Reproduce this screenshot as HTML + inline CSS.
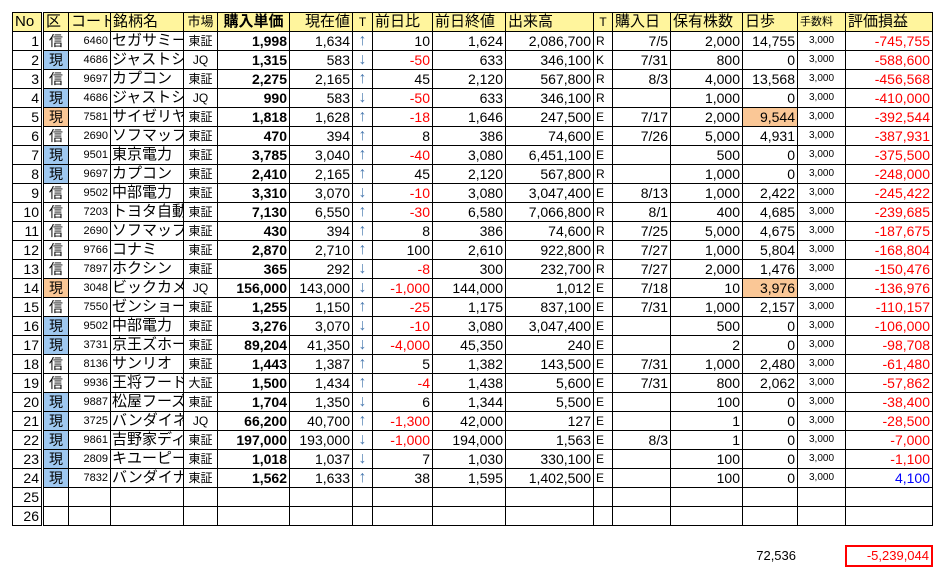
<!DOCTYPE html>
<html><head><meta charset="utf-8"><style>
body{margin:0;width:948px;height:578px;background:#fff;position:relative;overflow:hidden;font-family:"Liberation Sans","Noto Sans CJK JP",sans-serif;}
table{position:absolute;left:12px;top:12px;border-collapse:collapse;table-layout:fixed;width:921px;font-size:14px;color:#000;}
td{border:1px solid #000;padding:0 2px;height:18px;line-height:18px;white-space:nowrap;overflow:hidden;text-align:right;}
tr{height:19px;}
tr.h td{background:#fff59d;text-align:left;font-size:15px;}
td.k{text-align:center;border-left:3px double #000;}
td.c{font-size:11px;}
td.n{text-align:left;font-size:15px;padding-left:1px;}
td.m{text-align:center;font-size:12px;}
td.b{font-weight:bold;}
td.a{text-align:center;color:#4a7ab0;font-size:16px;}
td.t{text-align:left;font-size:12px;}
td.f{font-size:10px;text-align:center;vertical-align:middle;line-height:16px;}
.r{color:#f00;}.bl{color:#00f;}
.B{background:#9fc8f0;}.O{background:#fac796;}
#tot{position:absolute;left:740px;top:548px;width:56px;text-align:right;font-size:13px;}
#box{position:absolute;left:845px;top:545px;width:82px;height:18px;border:2px solid #f00;color:#f00;text-align:right;font-size:13px;line-height:18px;padding-right:2px;}
</style></head><body>
<table>
<colgroup><col style="width:30px"><col style="width:26px"><col style="width:42px"><col style="width:73px"><col style="width:34px"><col style="width:72px"><col style="width:63px"><col style="width:20px"><col style="width:60px"><col style="width:73px"><col style="width:88px"><col style="width:19px"><col style="width:58px"><col style="width:72px"><col style="width:55px"><col style="width:48px"><col style="width:87px"></colgroup>
<tr class="h"><td>No</td><td class="k" style="background:#fff59d">区</td><td>コード</td><td>銘柄名</td><td style="text-align:center;font-size:13px">市場</td><td style="font-weight:bold;text-align:center">購入単価</td><td style="text-align:right">現在値</td><td style="text-align:center;font-size:12px">T</td><td>前日比</td><td>前日終値</td><td>出来高</td><td style="font-size:12px;text-align:center">T</td><td>購入日</td><td>保有株数</td><td>日歩</td><td style="font-size:11px">手数料</td><td>評価損益</td></tr>
<tr><td>1</td><td class="k">信</td><td class="c">6460</td><td class="n">セガサミー</td><td class="m">東証</td><td class="b">1,998</td><td>1,634</td><td class="a">↑</td><td>10</td><td>1,624</td><td>2,086,700</td><td class="t">R</td><td>7/5</td><td>2,000</td><td>14,755</td><td class="f">3,000</td><td class="r">-745,755</td></tr>
<tr><td>2</td><td class="k B">現</td><td class="c">4686</td><td class="n">ジャストシステム</td><td class="m">JQ</td><td class="b">1,315</td><td>583</td><td class="a">↓</td><td class="r">-50</td><td>633</td><td>346,100</td><td class="t">K</td><td>7/31</td><td>800</td><td>0</td><td class="f">3,000</td><td class="r">-588,600</td></tr>
<tr><td>3</td><td class="k">信</td><td class="c">9697</td><td class="n">カプコン</td><td class="m">東証</td><td class="b">2,275</td><td>2,165</td><td class="a">↑</td><td>45</td><td>2,120</td><td>567,800</td><td class="t">R</td><td>8/3</td><td>4,000</td><td>13,568</td><td class="f">3,000</td><td class="r">-456,568</td></tr>
<tr><td>4</td><td class="k B">現</td><td class="c">4686</td><td class="n">ジャストシステム</td><td class="m">JQ</td><td class="b">990</td><td>583</td><td class="a">↓</td><td class="r">-50</td><td>633</td><td>346,100</td><td class="t">R</td><td></td><td>1,000</td><td>0</td><td class="f">3,000</td><td class="r">-410,000</td></tr>
<tr><td>5</td><td class="k O">現</td><td class="c">7581</td><td class="n">サイゼリヤ</td><td class="m">東証</td><td class="b">1,818</td><td>1,628</td><td class="a">↑</td><td class="r">-18</td><td>1,646</td><td>247,500</td><td class="t">E</td><td>7/17</td><td>2,000</td><td class="O">9,544</td><td class="f">3,000</td><td class="r">-392,544</td></tr>
<tr><td>6</td><td class="k">信</td><td class="c">2690</td><td class="n">ソフマップ</td><td class="m">東証</td><td class="b">470</td><td>394</td><td class="a">↑</td><td>8</td><td>386</td><td>74,600</td><td class="t">E</td><td>7/26</td><td>5,000</td><td>4,931</td><td class="f">3,000</td><td class="r">-387,931</td></tr>
<tr><td>7</td><td class="k B">現</td><td class="c">9501</td><td class="n">東京電力</td><td class="m">東証</td><td class="b">3,785</td><td>3,040</td><td class="a">↑</td><td class="r">-40</td><td>3,080</td><td>6,451,100</td><td class="t">E</td><td></td><td>500</td><td>0</td><td class="f">3,000</td><td class="r">-375,500</td></tr>
<tr><td>8</td><td class="k B">現</td><td class="c">9697</td><td class="n">カプコン</td><td class="m">東証</td><td class="b">2,410</td><td>2,165</td><td class="a">↑</td><td>45</td><td>2,120</td><td>567,800</td><td class="t">R</td><td></td><td>1,000</td><td>0</td><td class="f">3,000</td><td class="r">-248,000</td></tr>
<tr><td>9</td><td class="k">信</td><td class="c">9502</td><td class="n">中部電力</td><td class="m">東証</td><td class="b">3,310</td><td>3,070</td><td class="a">↓</td><td class="r">-10</td><td>3,080</td><td>3,047,400</td><td class="t">E</td><td>8/13</td><td>1,000</td><td>2,422</td><td class="f">3,000</td><td class="r">-245,422</td></tr>
<tr><td>10</td><td class="k">信</td><td class="c">7203</td><td class="n">トヨタ自動車</td><td class="m">東証</td><td class="b">7,130</td><td>6,550</td><td class="a">↑</td><td class="r">-30</td><td>6,580</td><td>7,066,800</td><td class="t">R</td><td>8/1</td><td>400</td><td>4,685</td><td class="f">3,000</td><td class="r">-239,685</td></tr>
<tr><td>11</td><td class="k">信</td><td class="c">2690</td><td class="n">ソフマップ</td><td class="m">東証</td><td class="b">430</td><td>394</td><td class="a">↑</td><td>8</td><td>386</td><td>74,600</td><td class="t">R</td><td>7/25</td><td>5,000</td><td>4,675</td><td class="f">3,000</td><td class="r">-187,675</td></tr>
<tr><td>12</td><td class="k">信</td><td class="c">9766</td><td class="n">コナミ</td><td class="m">東証</td><td class="b">2,870</td><td>2,710</td><td class="a">↑</td><td>100</td><td>2,610</td><td>922,800</td><td class="t">R</td><td>7/27</td><td>1,000</td><td>5,804</td><td class="f">3,000</td><td class="r">-168,804</td></tr>
<tr><td>13</td><td class="k">信</td><td class="c">7897</td><td class="n">ホクシン</td><td class="m">東証</td><td class="b">365</td><td>292</td><td class="a">↓</td><td class="r">-8</td><td>300</td><td>232,700</td><td class="t">R</td><td>7/27</td><td>2,000</td><td>1,476</td><td class="f">3,000</td><td class="r">-150,476</td></tr>
<tr><td>14</td><td class="k O">現</td><td class="c">3048</td><td class="n">ビックカメラ</td><td class="m">JQ</td><td class="b">156,000</td><td>143,000</td><td class="a">↓</td><td class="r">-1,000</td><td>144,000</td><td>1,012</td><td class="t">E</td><td>7/18</td><td>10</td><td class="O">3,976</td><td class="f">3,000</td><td class="r">-136,976</td></tr>
<tr><td>15</td><td class="k">信</td><td class="c">7550</td><td class="n">ゼンショー</td><td class="m">東証</td><td class="b">1,255</td><td>1,150</td><td class="a">↑</td><td class="r">-25</td><td>1,175</td><td>837,100</td><td class="t">E</td><td>7/31</td><td>1,000</td><td>2,157</td><td class="f">3,000</td><td class="r">-110,157</td></tr>
<tr><td>16</td><td class="k B">現</td><td class="c">9502</td><td class="n">中部電力</td><td class="m">東証</td><td class="b">3,276</td><td>3,070</td><td class="a">↓</td><td class="r">-10</td><td>3,080</td><td>3,047,400</td><td class="t">E</td><td></td><td>500</td><td>0</td><td class="f">3,000</td><td class="r">-106,000</td></tr>
<tr><td>17</td><td class="k B">現</td><td class="c">3731</td><td class="n">京王ズホールディングス</td><td class="m">東証</td><td class="b">89,204</td><td>41,350</td><td class="a">↓</td><td class="r">-4,000</td><td>45,350</td><td>240</td><td class="t">E</td><td></td><td>2</td><td>0</td><td class="f">3,000</td><td class="r">-98,708</td></tr>
<tr><td>18</td><td class="k">信</td><td class="c">8136</td><td class="n">サンリオ</td><td class="m">東証</td><td class="b">1,443</td><td>1,387</td><td class="a">↑</td><td>5</td><td>1,382</td><td>143,500</td><td class="t">E</td><td>7/31</td><td>1,000</td><td>2,480</td><td class="f">3,000</td><td class="r">-61,480</td></tr>
<tr><td>19</td><td class="k">信</td><td class="c">9936</td><td class="n">王将フードサービス</td><td class="m">大証</td><td class="b">1,500</td><td>1,434</td><td class="a">↑</td><td class="r">-4</td><td>1,438</td><td>5,600</td><td class="t">E</td><td>7/31</td><td>800</td><td>2,062</td><td class="f">3,000</td><td class="r">-57,862</td></tr>
<tr><td>20</td><td class="k B">現</td><td class="c">9887</td><td class="n">松屋フーズ</td><td class="m">東証</td><td class="b">1,704</td><td>1,350</td><td class="a">↓</td><td>6</td><td>1,344</td><td>5,500</td><td class="t">E</td><td></td><td>100</td><td>0</td><td class="f">3,000</td><td class="r">-38,400</td></tr>
<tr><td>21</td><td class="k B">現</td><td class="c">3725</td><td class="n">バンダイネット</td><td class="m">JQ</td><td class="b">66,200</td><td>40,700</td><td class="a">↑</td><td class="r">-1,300</td><td>42,000</td><td>127</td><td class="t">E</td><td></td><td>1</td><td>0</td><td class="f">3,000</td><td class="r">-28,500</td></tr>
<tr><td>22</td><td class="k B">現</td><td class="c">9861</td><td class="n">吉野家ディー</td><td class="m">東証</td><td class="b">197,000</td><td>193,000</td><td class="a">↓</td><td class="r">-1,000</td><td>194,000</td><td>1,563</td><td class="t">E</td><td>8/3</td><td>1</td><td>0</td><td class="f">3,000</td><td class="r">-7,000</td></tr>
<tr><td>23</td><td class="k B">現</td><td class="c">2809</td><td class="n">キユーピー</td><td class="m">東証</td><td class="b">1,018</td><td>1,037</td><td class="a">↓</td><td>7</td><td>1,030</td><td>330,100</td><td class="t">E</td><td></td><td>100</td><td>0</td><td class="f">3,000</td><td class="r">-1,100</td></tr>
<tr><td>24</td><td class="k B">現</td><td class="c">7832</td><td class="n">バンダイナムコ</td><td class="m">東証</td><td class="b">1,562</td><td>1,633</td><td class="a">↑</td><td>38</td><td>1,595</td><td>1,402,500</td><td class="t">E</td><td></td><td>100</td><td>0</td><td class="f">3,000</td><td class="bl">4,100</td></tr>
<tr><td>25</td><td class="k"></td><td></td><td></td><td></td><td></td><td></td><td></td><td></td><td></td><td></td><td></td><td></td><td></td><td></td><td></td><td></td></tr>
<tr><td>26</td><td class="k"></td><td></td><td></td><td></td><td></td><td></td><td></td><td></td><td></td><td></td><td></td><td></td><td></td><td></td><td></td><td></td></tr>
</table>
<div id="tot">72,536</div>
<div id="box">-5,239,044</div>
</body></html>
